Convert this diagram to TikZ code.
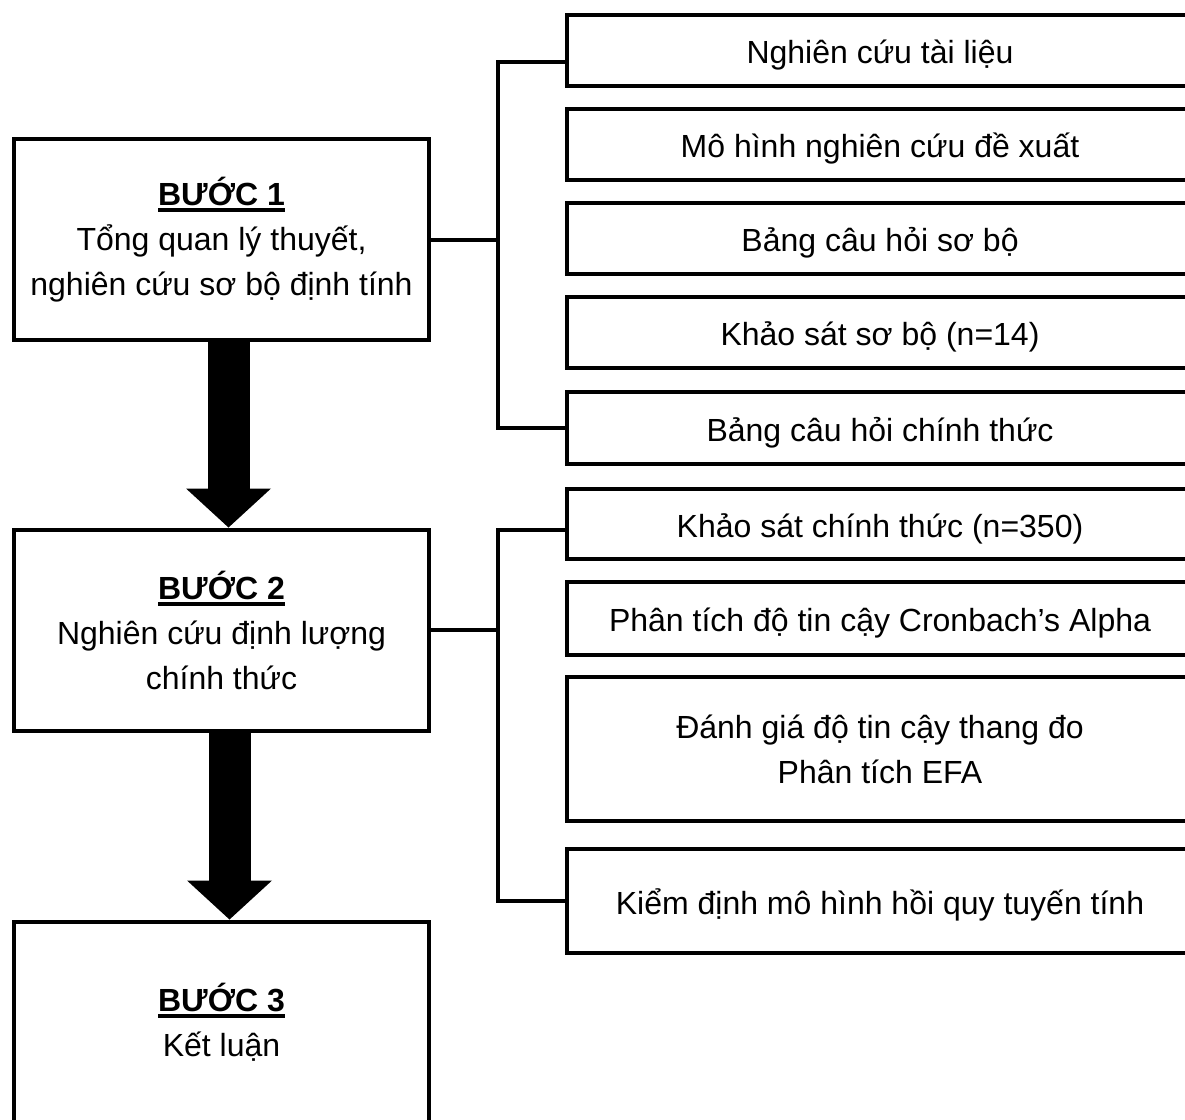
\documentclass[tikz,border=0pt]{standalone}
\usepackage{fontspec}
\setmainfont{Liberation Sans}
\usetikzlibrary{arrows.meta,positioning}

% underlined step title
\newcommand{\steptitle}[1]{\setbox0=\hbox{\bfseries #1}\leavevmode\rlap{\rule[-7pt]{\wd0}{4pt}}\box0}

\begin{document}
\begin{tikzpicture}[
  x=1pt, y=-1pt,
  node distance = 19pt,
  stepbox/.style = {
    rectangle, draw, line width=4pt,
    minimum width=415pt, minimum height=201pt,
    align=center, font=\fontsize{32}{45}\selectfont
  },
  subbox/.style = {
    rectangle, draw, line width=4pt,
    minimum width=626pt, minimum height=71pt,
    align=center, font=\fontsize{32}{45}\selectfont
  },
  onebox/.style = {subbox, text height=34pt, text depth=8pt},
  link/.style = {line width=4pt},
  fatarrow/.style = {line width=42pt, -{Triangle[length=39pt,width=85pt,line width=0pt]}}
]
  \useasboundingbox (0,0) rectangle (1185,1119);
  \clip (0,0) rectangle (1185,1119);

  \node[stepbox] (b1) at (221.5,239.5) {\steptitle{BƯỚC 1}\\Tổng quan lý thuyết,\\nghiên cứu sơ bộ định tính};
  \node[stepbox] (b2) at (221.5,630)   {\steptitle{BƯỚC 2}\\Nghiên cứu định lượng\\chính thức};
  \node[stepbox] (b3) at (221.5,1022)  {\steptitle{BƯỚC 3}\\Kết luận};

  \node[onebox] (s1) at (880,50.5) {Nghiên cứu tài liệu};
  \node[onebox, below=of s1] (s2) {Mô hình nghiên cứu đề xuất};
  \node[onebox, below=of s2] (s3) {Bảng câu hỏi sơ bộ};
  \node[onebox, below=of s3] (s4) {Khảo sát sơ bộ (n=14)};
  \node[onebox, below=20pt of s4, minimum height=72pt] (s5) {Bảng câu hỏi chính thức};
  \node[onebox, below=21pt of s5, minimum height=70pt] (s6) {Khảo sát chính thức (n=350)};
  \node[onebox, below=of s6, minimum height=73pt] (s7) {Phân tích độ tin cậy Cronbach’s Alpha};
  \node[subbox, below=18pt of s7, minimum height=144pt] (s8) {Đánh giá độ tin cậy thang đo\\Phân tích EFA};
  \node[onebox, below=24pt of s8, minimum height=104pt] (s9) {Kiểm định mô hình hồi quy tuyến tính};

  \coordinate (j1) at ([xshift=67pt]b1.east);
  \coordinate (j2) at ([xshift=67pt]b2.east);

  \draw[link] (b1.east) -- (j1);
  \draw[link] ([yshift=-11pt]s1.west) -| (j1) |- (s5.west);
  \draw[link] (b2.east) -- (j2);
  \draw[link] ([yshift=-6pt]s6.west) -| (j2) |- (s9.west);

  \draw[fatarrow] ([xshift=7pt]b1.south) -- ([xshift=7pt]b2.north);
  \draw[fatarrow] ([xshift=8pt]b2.south) -- ([xshift=8pt]b3.north);
\end{tikzpicture}
\end{document}
